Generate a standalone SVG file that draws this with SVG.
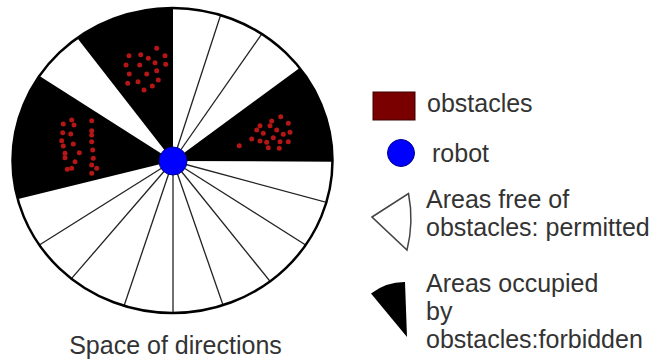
<svg xmlns="http://www.w3.org/2000/svg" width="652" height="360" viewBox="0 0 652 360">
<style>
text{font-family:"Liberation Sans",Arial,sans-serif;font-size:25px;fill:#333}
.ray{stroke:#222;stroke-width:1.3;fill:none}
.blk{fill:#000}
.dot{fill:#b51616}
</style>
<defs>
<clipPath id="clip"><ellipse cx="172.5" cy="160.5" rx="160" ry="152.5"/></clipPath>
<circle id="d" r="2.5"/>
</defs>
<rect width="652" height="360" fill="#fff"/>
<g id="space">
<ellipse cx="172.5" cy="160.5" rx="160" ry="152.5" fill="#fff"/>
<g clip-path="url(#clip)">
<polygon class="blk" points="173,161 -168,244.6 -117.4,-23.8"/>
<polygon class="blk" points="173,161 -36,-107.4 173,-175.6"/>
<polygon class="blk" points="173,161 445.8,-39.2 523,162.5"/>
</g>
<g id="connectors" clip-path="url(#clip)">
<line class="ray" x1="173" y1="161" x2="224.7" y2="2.6"/>
<line class="ray" x1="173" y1="161" x2="269.8" y2="22.4"/>
<line class="ray" x1="173" y1="161" x2="340.2" y2="206.1"/>
<line class="ray" x1="173" y1="161" x2="317.1" y2="252.3"/>
<line class="ray" x1="173" y1="161" x2="278.6" y2="291.9"/>
<line class="ray" x1="173" y1="161" x2="228" y2="319.4"/>
<line class="ray" x1="173" y1="161" x2="173" y2="328.2"/>
<line class="ray" x1="173" y1="161" x2="119.1" y2="320.5"/>
<line class="ray" x1="173" y1="161" x2="61.9" y2="289.7"/>
<line class="ray" x1="173" y1="161" x2="27.8" y2="252.3"/>
</g>
<ellipse cx="172.5" cy="160.5" rx="160" ry="152.5" fill="none" stroke="#000" stroke-width="2.5"/>
</g>
<g id="obstacles-top" class="dot">
<use href="#d" x="156.7" y="48.3"/><use href="#d" x="129" y="55.7"/><use href="#d" x="140.7" y="54.7"/><use href="#d" x="148.3" y="58.3"/><use href="#d" x="165" y="55.7"/><use href="#d" x="155" y="62.7"/><use href="#d" x="126" y="65"/><use href="#d" x="139.7" y="65"/><use href="#d" x="165.7" y="64.3"/><use href="#d" x="156.7" y="70.7"/><use href="#d" x="129.3" y="74"/><use href="#d" x="146.7" y="74"/><use href="#d" x="138" y="81.7"/><use href="#d" x="158.3" y="80"/><use href="#d" x="127.7" y="83.3"/><use href="#d" x="152.3" y="86"/><use href="#d" x="144" y="90"/>
</g>
<g id="obstacles-left" class="dot">
<use href="#d" x="63.3" y="124"/><use href="#d" x="62.7" y="132.7"/><use href="#d" x="61.7" y="140.7"/><use href="#d" x="63.3" y="146"/><use href="#d" x="65" y="153.3"/><use href="#d" x="65" y="157.7"/><use href="#d" x="67.3" y="169.3"/><use href="#d" x="71.7" y="168.3"/>
<use href="#d" x="71.7" y="120"/><use href="#d" x="74" y="125"/><use href="#d" x="70.7" y="134"/><use href="#d" x="73.3" y="144"/><use href="#d" x="79.3" y="152.7"/><use href="#d" x="75" y="161.7"/>
<use href="#d" x="91.7" y="120.7"/><use href="#d" x="91.7" y="130.7"/><use href="#d" x="91.7" y="135"/><use href="#d" x="91.7" y="141.7"/><use href="#d" x="92.7" y="150"/><use href="#d" x="93.3" y="158.3"/><use href="#d" x="96.7" y="168.3"/><use href="#d" x="91.7" y="165"/><use href="#d" x="91.7" y="173.3"/>
</g>
<g id="obstacles-right" class="dot">
<use href="#d" x="280.7" y="116.7"/><use href="#d" x="271.7" y="121"/><use href="#d" x="288.3" y="123.3"/><use href="#d" x="260" y="125.7"/><use href="#d" x="270" y="125.7"/><use href="#d" x="256.7" y="130"/><use href="#d" x="276.7" y="130"/><use href="#d" x="263.3" y="133.3"/><use href="#d" x="283.3" y="134.3"/><use href="#d" x="290" y="132.3"/><use href="#d" x="251.7" y="139"/><use href="#d" x="273.3" y="137.7"/><use href="#d" x="260" y="141"/><use href="#d" x="266.7" y="142.3"/><use href="#d" x="280" y="141.7"/><use href="#d" x="288.3" y="141.7"/><use href="#d" x="239.3" y="145.7"/><use href="#d" x="268.3" y="147.7"/><use href="#d" x="279.3" y="148.3"/>
</g>
<g id="robot">
<circle cx="173" cy="161" r="14" fill="#0000ff" stroke="#00008b" stroke-width="1"/>
</g>
<g id="caption"><text x="175.5" y="354" text-anchor="middle">Space of directions</text></g>
<g id="legend-obstacles">
<rect x="373" y="92" width="42" height="28" fill="#7a0000" stroke="#3a0000" stroke-width="1"/>
<text x="427" y="112">obstacles</text>
</g>
<g id="legend-robot">
<circle cx="401" cy="153" r="13.5" fill="#0000ff" stroke="#00008b" stroke-width="1"/>
<text x="432" y="162">robot</text>
</g>
<g id="legend-free">
<path d="M372,217 L408.5,193.5 A130,130 0 0 1 407,250 Z" fill="#fff" stroke="#444" stroke-width="1.5"/>
<text x="426" y="208">Areas free of</text>
<text x="426" y="236">obstacles: permitted</text>
</g>
<g id="legend-forbidden">
<path d="M407,337 L371,293.5 A55,55 0 0 1 405,282 Z" fill="#000"/>
<text x="426" y="292">Areas occupied</text>
<text x="426" y="320">by</text>
<text x="426" y="348">obstacles:forbidden</text>
</g>
</svg>
